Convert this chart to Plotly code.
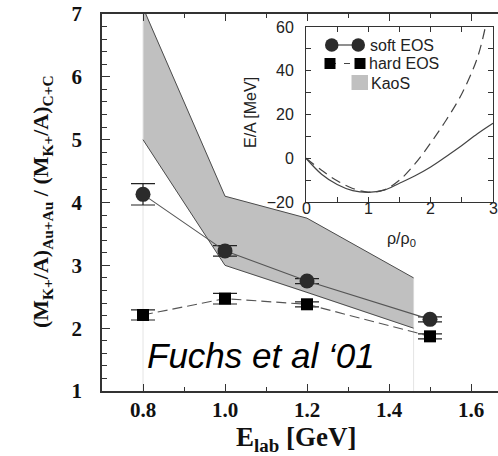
import plotly.graph_objects as go

# ---------------- data ----------------
energy = [0.8, 1.0, 1.2, 1.5]
soft_ratio = [4.13, 3.23, 2.75, 2.14]
soft_err = [0.17, 0.085, 0.04, 0.04]
hard_ratio = [2.21, 2.47, 2.38, 1.87]
hard_err = [0.08, 0.085, 0.04, 0.04]

kaos_energy = [0.8, 1.0, 1.2, 1.46]
kaos_upper = [7.1, 4.1, 3.75, 2.8]
kaos_lower = [5.0, 3.0, 2.57, 2.0]

rho_soft = [0, 0.25, 0.5, 0.75, 1.0, 1.25, 1.5, 1.75, 2.0, 2.25, 2.5, 2.75, 3.0]
ea_soft = [0, -7.3, -12.0, -14.8, -15.6, -14.6, -11.4, -8.0, -4.0, 0.8, 5.8, 11.2, 16.0]
rho_hard = [0, 0.25, 0.5, 0.75, 1.0, 1.25, 1.5, 1.75, 2.0, 2.25, 2.5, 2.75, 2.9]
ea_hard = [0, -5.5, -10.3, -13.8, -15.5, -14.5, -10.0, -2.5, 7.0, 17.5, 29.5, 46.0, 63.0]

x_ticks = [0.8, 1.0, 1.2, 1.4, 1.6]
x_ticklabels = ["0.8", "1.0", "1.2", "1.4", "1.6"]
y_ticks = [1, 2, 3, 4, 5, 6, 7]
inset_x_ticks = [0, 1, 2, 3]
inset_y_ticks = [-20, 0, 20, 40, 60]

# ---------------- layout helpers (pixel -> paper) ----------------
W, H = 498, 456
ML, MR, MT, MB = 102, 0, 14, 65
PW, PH = W - ML - MR, H - MT - MB
PX_PER_UNIT = 410.0


def px(X):
    return (X - ML) / PW


def py(Y):
    return (H - MB - Y) / PH


SERIF = "Liberation Serif"
SANS = "Liberation Sans"
AX = "#333333"

fig = go.Figure()

# KaoS band
fig.add_trace(go.Scatter(
    x=kaos_energy + kaos_energy[::-1],
    y=kaos_upper + kaos_lower[::-1],
    fill="toself", fillcolor="#c0c0c0", mode="lines",
    line=dict(width=0.8, color="#d8d8d8"), hoverinfo="skip", showlegend=False))
# faint vertical guides at band ends
fig.add_trace(go.Scatter(x=[kaos_energy[0], kaos_energy[0]], y=[1, 7], mode="lines",
                         line=dict(color="#e4e4e4", width=1), showlegend=False))
fig.add_trace(go.Scatter(x=[kaos_energy[-1], kaos_energy[-1]], y=[1, kaos_lower[-1]], mode="lines",
                         line=dict(color="#e4e4e4", width=1), showlegend=False))
fig.add_trace(go.Scatter(x=kaos_energy, y=kaos_upper, mode="lines",
                         line=dict(color="#4a4a4a", width=1), showlegend=False))
fig.add_trace(go.Scatter(x=kaos_energy, y=kaos_lower, mode="lines",
                         line=dict(color="#4a4a4a", width=1), showlegend=False))

# soft EOS
fig.add_trace(go.Scatter(
    x=energy, y=soft_ratio, mode="lines+markers",
    line=dict(color="#555555", width=1.1),
    marker=dict(symbol="circle", size=15, color="#2b2b2b"),
    error_y=dict(type="data", array=soft_err, visible=True, width=12, thickness=1.2, color="#222222"),
    showlegend=False))
# hard EOS
fig.add_trace(go.Scatter(
    x=energy, y=hard_ratio, mode="lines+markers",
    line=dict(color="#555555", width=1.1, dash="10px,5px"),
    marker=dict(symbol="square", size=12, color="#000000"),
    error_y=dict(type="data", array=hard_err, visible=True, width=12, thickness=1.2, color="#222222"),
    showlegend=False))

# inset curves
fig.add_trace(go.Scatter(x=rho_soft, y=ea_soft, mode="lines", line=dict(color="#444444", width=1.2, shape="spline"),
                         xaxis="x2", yaxis="y2", showlegend=False))
fig.add_trace(go.Scatter(x=rho_hard, y=ea_hard, mode="lines",
                         line=dict(color="#444444", width=1.2, dash="10px,6px", shape="spline"),
                         xaxis="x2", yaxis="y2", showlegend=False))

fig.update_layout(
    width=W, height=H,
    margin=dict(l=ML, r=MR, t=MT, b=MB, pad=0),
    paper_bgcolor="white", plot_bgcolor="white",
    showlegend=False,
    xaxis=dict(
        domain=[0, 1], range=[0.7, 0.7 + PW / PX_PER_UNIT], tickvals=x_ticks, ticktext=x_ticklabels,
        ticks="inside", ticklen=7, tickwidth=1.2, tickcolor=AX,
        showline=True, linecolor=AX, linewidth=1.5, mirror="ticks",
        minor=dict(dtick=0.1, tick0=0.7, ticks="inside", ticklen=4, tickwidth=1, tickcolor=AX, showgrid=False),
        showgrid=False, zeroline=False, automargin=False, ticklabelstandoff=-1,
        tickfont=dict(family=SERIF, size=21, color="#111111", weight="bold")),
    yaxis=dict(
        domain=[0, 1], range=[1, 7], tickvals=y_ticks,
        ticks="inside", ticklen=8, tickwidth=1.2, tickcolor=AX,
        showline=True, linecolor=AX, linewidth=1.5, mirror=False,
        minor=dict(dtick=0.2, tick0=1, ticks="inside", ticklen=5, tickwidth=1, tickcolor=AX, showgrid=False),
        showgrid=False, zeroline=False, automargin=False, ticklabelstandoff=14,
        tickfont=dict(family=SERIF, size=21, color="#111111", weight="bold")),
    xaxis2=dict(
        domain=[px(306), px(493)], anchor="y2", range=[0, 3], tickvals=inset_x_ticks,
        showticklabels=False,
        ticks="inside", ticklen=5, tickwidth=1, tickcolor=AX,
        showline=True, linecolor=AX, linewidth=1, mirror="ticks",
        minor=dict(dtick=0.5, ticks="inside", ticklen=5, tickwidth=1, tickcolor=AX, showgrid=False),
        showgrid=False, zeroline=False, automargin=False),
    yaxis2=dict(
        domain=[py(202), py(27)], anchor="x2", range=[-20, 60], tickvals=inset_y_ticks,
        ticks="inside", ticklen=5, tickwidth=1, tickcolor=AX,
        showline=True, linecolor=AX, linewidth=1, mirror="ticks",
        minor=dict(dtick=10, ticks="inside", ticklen=5, tickwidth=1, tickcolor=AX, showgrid=False),
        showgrid=False, zeroline=False, automargin=False, ticklabelstandoff=8,
        tickfont=dict(family=SANS, size=16, color="#222222")),
)

annotations = [
    dict(text="<b>(M<sub>K+</sub>/A)<sub>Au+Au</sub> / (M<sub>K+</sub>/A)<sub>C+C</sub></b>",
         x=px(42), y=py(202), textangle=-90, font=dict(family=SERIF, size=22, color="#111111")),
    dict(text="<b>E<sub>lab</sub> [GeV]</b>", x=px(296), y=py(439),
         font=dict(family=SERIF, size=27, color="#111111")),
    dict(text="<i>Fuchs et al \u201801</i>", x=px(261), y=py(355),
         font=dict(family=SANS, size=35, color="#000000")),
    dict(text="E/A [MeV]", x=px(251), y=py(113), textangle=-90,
         font=dict(family=SANS, size=16, color="#222222")),
    dict(text="\u03c1/\u03c1<sub>0</sub>", x=px(401), y=py(239),
         font=dict(family=SANS, size=16, color="#222222")),
    dict(text="soft EOS", x=px(368), y=py(45), xanchor="left",
         font=dict(family=SANS, size=16, color="#222222")),
    dict(text="hard EOS", x=px(367), y=py(63.5), xanchor="left",
         font=dict(family=SANS, size=16, color="#222222")),
    dict(text="KaoS", x=px(369), y=py(83), xanchor="left",
         font=dict(family=SANS, size=16, color="#222222")),
]
for a in annotations:
    a.setdefault("xanchor", "center")
    a.update(xref="paper", yref="paper", yanchor="middle", showarrow=False)
# inset x tick labels (placed close to the axis as in the reference)
for t in inset_x_ticks:
    annotations.append(dict(text=str(t), x=t, xref="x2", y=py(209), yref="paper",
                            xanchor="center", yanchor="middle", showarrow=False,
                            font=dict(family=SANS, size=16, color="#222222")))
fig.update_layout(annotations=annotations)

# inset legend glyphs
shapes = [
    dict(type="line", x0=px(332), x1=px(358), y0=py(45), y1=py(45), line=dict(color="#444444", width=1.2)),
    dict(type="circle", x0=px(325), x1=px(338.5), y0=py(51.7), y1=py(38.3), fillcolor="#2b2b2b", line=dict(width=0)),
    dict(type="circle", x0=px(351.5), x1=px(365), y0=py(51.7), y1=py(38.3), fillcolor="#2b2b2b", line=dict(width=0)),
    dict(type="line", x0=px(330), x1=px(360), y0=py(63.5), y1=py(63.5),
         line=dict(color="#444444", width=1.2, dash="6px,8px")),
    dict(type="rect", x0=px(324.5), x1=px(335.5), y0=py(69), y1=py(58), fillcolor="#000000", line=dict(width=0)),
    dict(type="rect", x0=px(354.5), x1=px(365.5), y0=py(69), y1=py(58), fillcolor="#000000", line=dict(width=0)),
    dict(type="rect", x0=px(351.5), x1=px(368), y0=py(90), y1=py(75), fillcolor="#c0c0c0", line=dict(width=0)),
]
for s in shapes:
    s.update(xref="paper", yref="paper", layer="above")
fig.update_layout(shapes=shapes)

fig.write_html("out.html")
